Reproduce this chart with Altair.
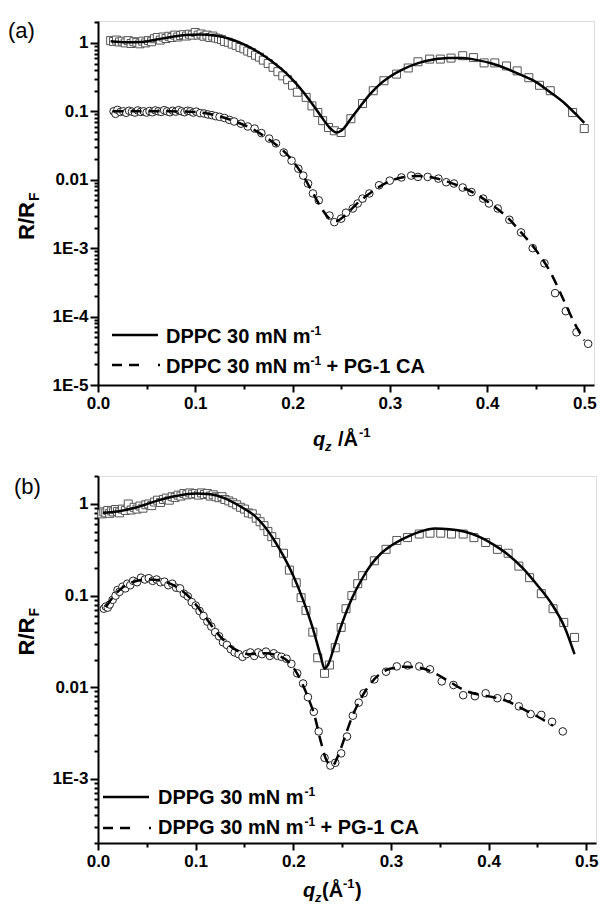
import altair as alt
import pandas as pd

FONT = "Liberation Sans"

# ---------------- Panel (a): DPPC ----------------
a_sq_q = [0.013, 0.016, 0.019, 0.022, 0.025, 0.028, 0.031, 0.034, 0.037, 0.040, 0.043, 0.046, 0.049, 0.052,
          0.055, 0.058, 0.061, 0.064, 0.067, 0.070, 0.073, 0.076, 0.079, 0.082, 0.085, 0.088, 0.091, 0.094,
          0.097, 0.100, 0.103, 0.106, 0.109, 0.112, 0.115, 0.118, 0.121, 0.124, 0.127, 0.130, 0.134, 0.138,
          0.142, 0.146, 0.150, 0.154, 0.158, 0.162, 0.166, 0.170, 0.175, 0.180, 0.185, 0.190, 0.195, 0.200,
          0.205, 0.214, 0.220, 0.226, 0.231, 0.237, 0.243, 0.250, 0.260, 0.272, 0.283, 0.294, 0.307, 0.319,
          0.329, 0.341, 0.352, 0.363, 0.375, 0.386, 0.397, 0.408, 0.420, 0.431, 0.443, 0.454, 0.465, 0.488, 0.500]
a_sq_r = [1.08, 1.05, 1.10, 1.03, 1.06, 1.00, 1.08, 0.98, 1.04, 1.02, 0.97, 1.06, 1.00, 1.08,
          1.04, 1.15, 1.20, 1.10, 1.22, 1.16, 1.25, 1.20, 1.30, 1.22, 1.28, 1.32, 1.26, 1.34,
          1.30, 1.42, 1.30, 1.35, 1.25, 1.30, 1.20, 1.26, 1.18, 1.15, 1.12, 1.05, 1.02, 0.96,
          0.92, 0.86, 0.82, 0.76, 0.72, 0.66, 0.62, 0.56, 0.50, 0.44, 0.38, 0.33, 0.29, 0.24,
          0.19, 0.16, 0.12, 0.096, 0.073, 0.058, 0.052, 0.049, 0.078, 0.13, 0.20, 0.28, 0.35, 0.43,
          0.53, 0.58, 0.58, 0.60, 0.65, 0.61, 0.51, 0.51, 0.46, 0.39, 0.31, 0.24, 0.20, 0.096, 0.056]

a_ci_q = [0.016, 0.018, 0.020, 0.023, 0.026, 0.029, 0.032, 0.035, 0.038, 0.041, 0.044, 0.047, 0.050, 0.053,
          0.056, 0.059, 0.062, 0.065, 0.068, 0.071, 0.074, 0.077, 0.080, 0.083, 0.086, 0.089, 0.092, 0.095,
          0.098, 0.101, 0.105, 0.109, 0.113, 0.117, 0.121, 0.125, 0.130, 0.135, 0.140, 0.147, 0.154, 0.161,
          0.168, 0.176, 0.183, 0.191, 0.199, 0.206, 0.211, 0.216, 0.221, 0.227, 0.238, 0.243, 0.250, 0.255,
          0.262, 0.267, 0.272, 0.279, 0.289, 0.300, 0.312, 0.322, 0.329, 0.339, 0.350, 0.358, 0.366, 0.375,
          0.384, 0.396, 0.402, 0.411, 0.423, 0.435, 0.447, 0.459, 0.470, 0.481, 0.492, 0.504]
a_ci_r = [0.100, 0.092, 0.105, 0.098, 0.100, 0.095, 0.102, 0.099, 0.096, 0.103, 0.098, 0.100, 0.096, 0.101,
          0.097, 0.103, 0.100, 0.098, 0.104, 0.100, 0.097, 0.102, 0.099, 0.104, 0.100, 0.097, 0.102, 0.100,
          0.096, 0.099, 0.094, 0.093, 0.090, 0.088, 0.085, 0.083, 0.080, 0.075, 0.071, 0.066, 0.060, 0.056,
          0.048, 0.040, 0.034, 0.025, 0.019, 0.0145, 0.0115, 0.0088, 0.0063, 0.0050, 0.0030, 0.0024, 0.0027, 0.0033,
          0.0038, 0.0045, 0.0053, 0.0063, 0.0083, 0.0097, 0.0108, 0.0115, 0.0110, 0.0110, 0.0104, 0.0092, 0.0088, 0.0077,
          0.0066, 0.0053, 0.0045, 0.0038, 0.0026, 0.0017, 0.0010, 0.0006, 0.00022, 0.00012, 0.000059, 0.00004]

a_fit1_q = [0.013, 0.030, 0.045, 0.060, 0.075, 0.090, 0.105, 0.120, 0.135, 0.150, 0.165, 0.180, 0.190, 0.200,
            0.210, 0.220, 0.230, 0.238, 0.245, 0.252, 0.260, 0.270, 0.280, 0.290, 0.300, 0.315, 0.330, 0.345,
            0.360, 0.375, 0.390, 0.405, 0.420, 0.435, 0.450, 0.465, 0.480, 0.490, 0.500]
a_fit1_r = [1.06, 1.02, 1.03, 1.12, 1.22, 1.30, 1.33, 1.28, 1.15, 0.95, 0.73, 0.52, 0.40, 0.29,
            0.20, 0.13, 0.082, 0.058, 0.049, 0.055, 0.078, 0.12, 0.18, 0.25, 0.32, 0.42, 0.51, 0.57,
            0.60, 0.60, 0.56, 0.50, 0.42, 0.34, 0.27, 0.19, 0.13, 0.095, 0.068]

a_fit2_q = [0.015, 0.040, 0.070, 0.100, 0.120, 0.140, 0.160, 0.180, 0.190, 0.200, 0.210, 0.220, 0.230, 0.238,
            0.245, 0.255, 0.265, 0.280, 0.300, 0.315, 0.330, 0.345, 0.360, 0.375, 0.390, 0.405, 0.420, 0.435,
            0.450, 0.465, 0.480, 0.490, 0.500]
a_fit2_r = [0.100, 0.100, 0.100, 0.098, 0.088, 0.072, 0.054, 0.035, 0.027, 0.019, 0.012, 0.0068, 0.0038, 0.0027,
            0.0025, 0.0031, 0.0043, 0.0064, 0.0095, 0.0110, 0.0113, 0.0107, 0.0093, 0.0077, 0.0060, 0.0043, 0.0029, 0.0017,
            0.00095, 0.00045, 0.00016, 0.00008, 0.000045]

# ---------------- Panel (b): DPPG ----------------
b_sq_q = [0.004, 0.006, 0.008, 0.010, 0.012, 0.014, 0.016, 0.018, 0.020, 0.022, 0.025, 0.028, 0.031, 0.034,
          0.037, 0.040, 0.043, 0.046, 0.049, 0.052, 0.055, 0.058, 0.061, 0.064, 0.067, 0.070, 0.073, 0.076,
          0.079, 0.082, 0.085, 0.088, 0.091, 0.094, 0.097, 0.100, 0.103, 0.106, 0.109, 0.112, 0.115, 0.118,
          0.121, 0.124, 0.127, 0.130, 0.134, 0.138, 0.142, 0.146, 0.150, 0.154, 0.158, 0.162, 0.166, 0.170,
          0.174, 0.178, 0.182, 0.190, 0.196, 0.203, 0.208, 0.213, 0.220, 0.225, 0.232, 0.237, 0.243, 0.249,
          0.254, 0.260, 0.266, 0.271, 0.283, 0.295, 0.306, 0.317, 0.329, 0.340, 0.351, 0.362, 0.374, 0.385,
          0.397, 0.409, 0.420, 0.431, 0.442, 0.454, 0.466, 0.477, 0.488]
b_sq_r = [0.78, 0.82, 0.80, 0.85, 0.79, 0.84, 0.82, 0.87, 0.83, 0.80, 0.88, 0.85, 1.00, 0.86,
          0.92, 0.88, 0.95, 0.90, 0.98, 1.00, 0.96, 1.05, 1.10, 1.04, 1.12, 1.16, 1.10, 1.20,
          1.18, 1.25, 1.22, 1.30, 1.26, 1.32, 1.28, 1.30, 1.25, 1.32, 1.27, 1.30, 1.22, 1.26,
          1.20, 1.17, 1.20, 1.12, 1.08, 1.03, 0.98, 0.92, 0.88, 0.80, 0.78, 0.70, 0.64, 0.58,
          0.50, 0.44, 0.38, 0.29, 0.19, 0.138, 0.095, 0.069, 0.040, 0.021, 0.0142, 0.0175, 0.027, 0.045,
          0.072, 0.10, 0.135, 0.165, 0.24, 0.32, 0.40, 0.43, 0.47, 0.48, 0.48, 0.47, 0.47, 0.43,
          0.38, 0.32, 0.29, 0.21, 0.157, 0.105, 0.072, 0.051, 0.035]

b_ci_q = [0.006, 0.008, 0.010, 0.012, 0.015, 0.018, 0.020, 0.022, 0.025, 0.028, 0.030, 0.033, 0.036, 0.040,
          0.044, 0.048, 0.052, 0.056, 0.060, 0.064, 0.068, 0.072, 0.076, 0.080, 0.084, 0.088, 0.092, 0.096,
          0.100, 0.104, 0.108, 0.112, 0.116, 0.120, 0.124, 0.128, 0.132, 0.136, 0.140, 0.144, 0.148, 0.152,
          0.156, 0.160, 0.164, 0.168, 0.172, 0.176, 0.180, 0.184, 0.188, 0.193, 0.198, 0.204, 0.210, 0.215,
          0.221, 0.226, 0.232, 0.238, 0.243, 0.249, 0.255, 0.261, 0.267, 0.272, 0.283, 0.295, 0.306, 0.317,
          0.329, 0.340, 0.352, 0.364, 0.374, 0.386, 0.397, 0.409, 0.420, 0.431, 0.443, 0.454, 0.465, 0.476]
b_ci_r = [0.072, 0.076, 0.074, 0.080, 0.090, 0.100, 0.115, 0.110, 0.125, 0.120, 0.135, 0.130, 0.145, 0.140,
          0.157, 0.150, 0.155, 0.145, 0.150, 0.140, 0.142, 0.130, 0.135, 0.122, 0.120, 0.105, 0.098, 0.085,
          0.078, 0.068, 0.060, 0.052, 0.046, 0.040, 0.036, 0.031, 0.029, 0.026, 0.024, 0.023, 0.0215, 0.023,
          0.024, 0.022, 0.024, 0.023, 0.0245, 0.022, 0.0235, 0.022, 0.0215, 0.0205, 0.018, 0.0142, 0.011, 0.0078,
          0.0054, 0.0033, 0.0017, 0.0014, 0.0015, 0.0019, 0.0029, 0.0049, 0.0068, 0.0086, 0.0122, 0.0148, 0.0169, 0.0173,
          0.0169, 0.0157, 0.0116, 0.0106, 0.0082, 0.0080, 0.0086, 0.0076, 0.0078, 0.0062, 0.0051, 0.0050, 0.0042, 0.0033]

b_fit1_q = [0.005, 0.020, 0.040, 0.060, 0.080, 0.100, 0.115, 0.130, 0.145, 0.160, 0.170, 0.180, 0.190, 0.200,
            0.210, 0.220, 0.228, 0.232, 0.236, 0.242, 0.250, 0.260, 0.270, 0.280, 0.290, 0.300, 0.315, 0.330,
            0.345, 0.360, 0.375, 0.390, 0.405, 0.420, 0.435, 0.450, 0.465, 0.478, 0.488]
b_fit1_r = [0.80, 0.83, 0.92, 1.08, 1.22, 1.30, 1.28, 1.15, 0.95, 0.75, 0.58, 0.41, 0.27, 0.165,
            0.090, 0.044, 0.022, 0.016, 0.018, 0.028, 0.050, 0.093, 0.15, 0.22, 0.29, 0.35, 0.43, 0.50,
            0.54, 0.53, 0.50, 0.44, 0.36, 0.28, 0.20, 0.13, 0.080, 0.045, 0.023]

b_fit2_q = [0.008, 0.020, 0.035, 0.050, 0.065, 0.080, 0.095, 0.110, 0.125, 0.140, 0.155, 0.170, 0.185, 0.195,
            0.205, 0.215, 0.222, 0.228, 0.234, 0.240, 0.246, 0.252, 0.260, 0.270, 0.280, 0.290, 0.300, 0.315,
            0.330, 0.345, 0.360, 0.375, 0.390, 0.405, 0.420, 0.435, 0.450, 0.466]
b_fit2_r = [0.075, 0.110, 0.140, 0.150, 0.145, 0.125, 0.093, 0.058, 0.036, 0.026, 0.023, 0.0235, 0.022, 0.019,
            0.0135, 0.0078, 0.0048, 0.0026, 0.0016, 0.0014, 0.0018, 0.0027, 0.0047, 0.0078, 0.0113, 0.0143, 0.0160, 0.0168,
            0.0163, 0.0142, 0.0115, 0.0093, 0.0083, 0.0078, 0.0070, 0.0058, 0.0048, 0.0038]

x_major = [0.0, 0.1, 0.2, 0.3, 0.4, 0.5]
x_minor = [0.05, 0.15, 0.25, 0.35, 0.45]

MAJ_Y = "abs(log(datum.value)/LN10 - round(log(datum.value)/LN10)) < 0.001"
MAJ_X = "abs(datum.value*10 - round(datum.value*10)) < 0.001"


def log_ticks(dmin, dmax):
    vals = []
    for d in range(-6, 1):
        for k in range(1, 10):
            v = round(k * 10 ** d, 12)
            if dmin * 0.999 <= v <= dmax:
                vals.append(v)
    return vals


def x_axis():
    return alt.Axis(values=sorted(x_major + x_minor),
                    labelExpr=f"{MAJ_X} ? format(datum.value, '.1f') : ''",
                    tickSize={"condition": {"test": MAJ_X, "value": 7}, "value": 4},
                    tickWidth=2, tickColor="black", domainColor="black", domainWidth=2,
                    labelFont=FONT, labelFontWeight="bold", labelFontSize=17, labelColor="black",
                    labelPadding=3, labelFlush=False, labelOverlap=False, grid=False, title=None)


def y_axis(dmin, dmax):
    return alt.Axis(values=log_ticks(dmin, dmax),
                    labelExpr=f"{MAJ_Y} ? (datum.value >= 0.01 ? format(datum.value, '.2~f') : '1E' + round(log(datum.value)/LN10)) : ''",
                    tickSize={"condition": {"test": MAJ_Y, "value": 8}, "value": 4},
                    tickWidth=2, tickColor="black", domainColor="black", domainWidth=2,
                    labelFont=FONT, labelFontWeight="bold", labelFontSize=17, labelColor="black",
                    labelPadding=2, labelOverlap=False, grid=False, title=None)


def txt(text, x, y, size, weight="bold", style="normal", angle=0, align="left", baseline="alphabetic"):
    return alt.Chart(pd.DataFrame({"t": [text]})).mark_text(
        font=FONT, fontSize=size, fontWeight=weight, fontStyle=style, angle=angle,
        align=align, baseline=baseline, color="black").encode(
        x=alt.value(x), y=alt.value(y), text="t:N")


def rule(x1, x2, y, dash=None):
    kw = dict(color="black", strokeWidth=2.5)
    if dash:
        kw["strokeDash"] = dash
    return alt.Chart(pd.DataFrame({"a": [0]})).mark_rule(**kw).encode(
        x=alt.value(x1), x2=alt.value(x2), y=alt.value(y))


def panel(sq_q, sq_r, ci_q, ci_r, f1q, f1r, f2q, f2r, ydom, w, h, label, lab_x, lab_y,
          name, leg):
    xs = alt.Scale(domain=[0, 0.51], nice=False, zero=False)
    ys = alt.Scale(type="log", domain=ydom, nice=False)
    xenc = alt.X("q:Q", scale=xs, axis=x_axis())
    yenc = alt.Y("r:Q", scale=ys, axis=y_axis(*ydom))
    sq = alt.Chart(pd.DataFrame({"q": sq_q, "r": sq_r})).mark_point(
        shape="square", filled=True, fill="white", stroke="#555555", strokeWidth=1, size=64,
        opacity=1).encode(x=xenc, y=yenc)
    ci = alt.Chart(pd.DataFrame({"q": ci_q, "r": ci_r})).mark_point(
        shape="circle", filled=True, fill="white", stroke="#222222", strokeWidth=1, size=58,
        opacity=1).encode(x=xenc, y=yenc)
    l1 = alt.Chart(pd.DataFrame({"q": f1q, "r": f1r})).mark_line(
        color="black", strokeWidth=2.5, interpolate="monotone").encode(x=xenc, y=yenc)
    l2 = alt.Chart(pd.DataFrame({"q": f2q, "r": f2r})).mark_line(
        color="black", strokeWidth=2.5, strokeDash=[11, 7], interpolate="monotone").encode(x=xenc, y=yenc)
    layers = [sq, ci, l1, l2]
    layers.append(txt(label, lab_x, lab_y, 22, weight="normal"))
    # y title R/R_F
    cy = h / 2 + leg["ty"]
    layers.append(txt("R/R", -71, cy, 22, angle=270, align="center", baseline="middle"))
    layers.append(txt("F", -63, cy - 20, 14, angle=270, align="left", baseline="middle"))
    # x title
    layers += leg["xtitle"]
    # legend
    layers.append(rule(leg["lx1"], leg["lx2"], leg["ly1"]))
    layers.append(rule(leg["lx1"], leg["lx2"] + 2, leg["ly2"], dash=[10, 7, 10, 19, 2]))
    layers.append(txt(name + " 30 mN m", leg["tx"], leg["ty1"], 20))
    layers.append(txt("-1", leg["tx"] + leg["mw"], leg["ty1"] - 8, 12))
    layers.append(txt(name + " 30 mN m", leg["tx"], leg["ty2"], 20))
    layers.append(txt("-1", leg["tx"] + leg["mw"], leg["ty2"] - 8, 12))
    layers.append(txt("+ PG-1 CA", leg["tx"] + leg["mw"] + 16, leg["ty2"], 20))
    return alt.layer(*layers).properties(width=w, height=h)


MW = 144.5  # width of "DPPC 30 mN m" at 20px bold

xt_a = [txt("q", 215, 425, 20, style="italic"),
        txt("z", 227, 430, 13, style="italic"),
        txt("/Å", 240, 425, 20),
        txt("-1", 261, 416, 13)]
xt_b = [txt("q", 205, 421, 20, style="italic"),
        txt("z", 217, 426, 13, style="italic"),
        txt("(Å", 224, 421, 20),
        txt("-1", 245, 412, 13),
        txt(")", 257, 421, 20)]

leg_a = dict(ty=18, xtitle=xt_a, lx1=14, lx2=60, ly1=314, ly2=344, tx=68, ty1=322, ty2=352, mw=MW)
leg_b = dict(ty=-23, xtitle=xt_b, lx1=5, lx2=51, ly1=321, ly2=352, tx=60, ty1=328, ty2=358, mw=MW + 2)

pa = panel(a_sq_q, a_sq_r, a_ci_q, a_ci_r, a_fit1_q, a_fit1_r, a_fit2_q, a_fit2_r,
           [1e-5, 2.09], 496, 364, "(a)", -90, 17, "DPPC", leg_a)
pb = panel(b_sq_q, b_sq_r, b_ci_q, b_ci_r, b_fit1_q, b_fit1_r, b_fit2_q, b_fit2_r,
           [2e-4, 2.02], 498, 367, "(b)", -84, 18, "DPPG", leg_b)

chart = alt.vconcat(pa, pb, spacing=91, bounds="flush").properties(
    padding={"left": 7, "top": 12, "right": 0, "bottom": 0}
).configure_view(stroke=None).configure(background="white")

chart.save("out.html", embed_options={"renderer": "svg", "actions": False})
